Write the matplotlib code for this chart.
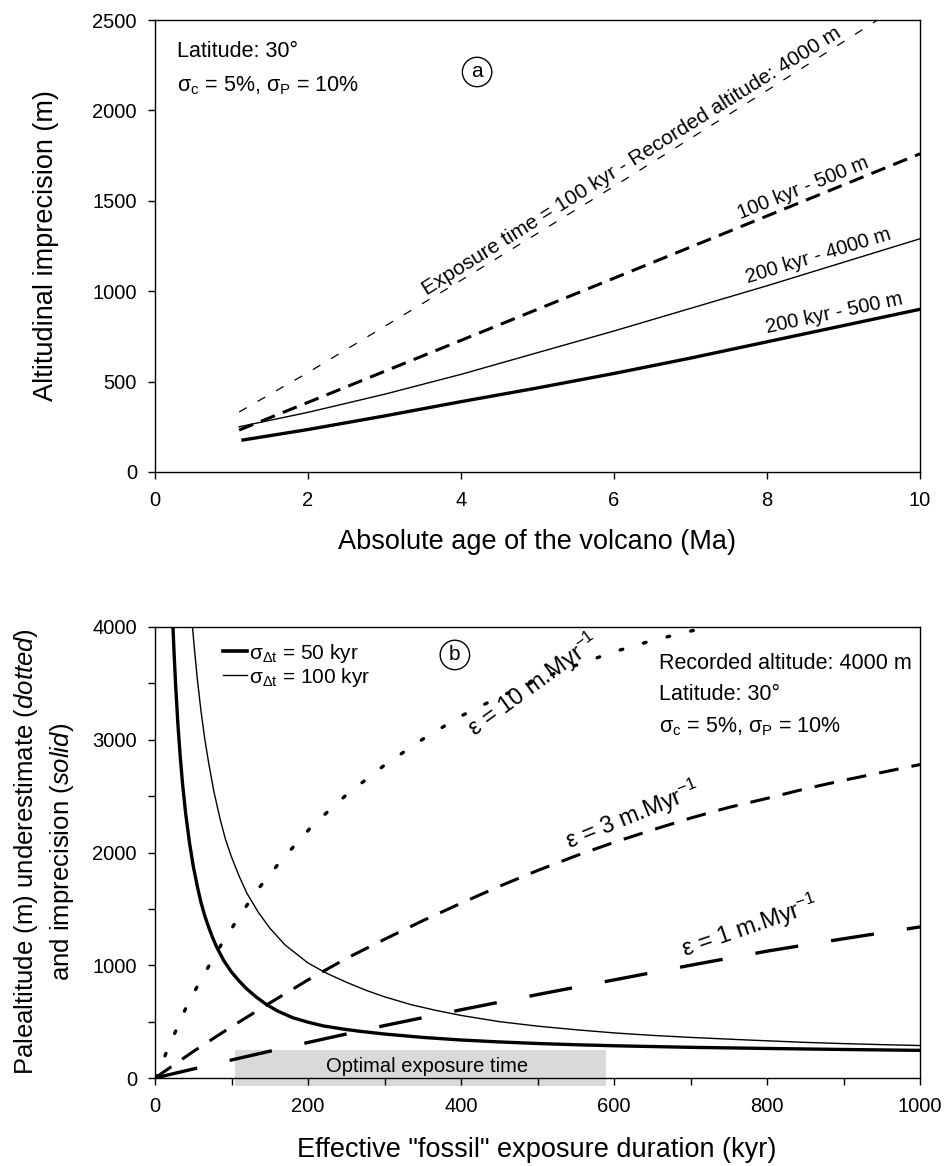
import matplotlib
matplotlib.use("Agg")
import matplotlib.pyplot as plt
from matplotlib.lines import Line2D
from matplotlib.ticker import MultipleLocator

# ---------------------------------------------------------------------------
# Data
# ---------------------------------------------------------------------------
# Panel (a): altitudinal imprecision vs absolute age of the volcano
AGE_100_4000 = [1.1, 2, 4, 6, 8, 10]
IMP_100_4000 = [332, 550, 1060, 1580, 2110, 2650]

AGE_100_500 = [1.1, 2, 4, 6, 8, 10]
IMP_100_500 = [232, 385, 728, 1072, 1416, 1760]

AGE_200_4000 = [1.1, 2, 3, 4, 5, 6, 7, 8, 9, 10]
IMP_200_4000 = [250, 330, 430, 540, 660, 780, 905, 1030, 1160, 1290]

AGE_200_500 = [1.15, 2, 3, 4, 5, 6, 7, 8, 9, 10]
IMP_200_500 = [177, 235, 310, 389, 465, 545, 630, 720, 810, 900]

# Panel (b): imprecision (solid) and underestimate (dotted/dashed) vs exposure
EXP_SIG50 = [23.5, 25, 27, 30, 33, 36, 40, 45, 50, 55, 60, 65, 70, 75, 80, 90,
             100, 110, 120, 132, 145, 160, 180, 200, 220, 245, 267, 300, 350,
             400, 450, 500, 550, 600, 700, 800, 900, 1000]
IMP_SIG50 = [4000, 3760, 3480, 3130, 2850, 2610, 2350, 2090, 1880, 1710, 1560,
             1440, 1340, 1250, 1170, 1040, 940, 860, 790, 720, 655, 595, 535,
             495, 462, 435, 415, 390, 360, 337, 320, 306, 295, 286, 272, 262,
             253, 245]

EXP_SIG100 = [49, 52, 55, 60, 65, 70, 77, 85, 92, 100, 110, 120, 135, 150, 170,
              200, 224, 250, 275, 300, 335, 367, 400, 450, 500, 550, 600, 650,
              700, 775, 800, 850, 900, 950, 1000]
IMP_SIG100 = [4000, 3770, 3560, 3260, 3010, 2800, 2540, 2300, 2120, 1960, 1790,
              1640, 1470, 1330, 1180, 1020, 930, 850, 780, 720, 650, 600, 555,
              500, 460, 428, 400, 378, 360, 337, 330, 316, 305, 296, 288]

EXP_EPS10 = [0, 10, 25, 43, 65, 85, 110, 132, 165, 206, 250, 300, 350, 400,
             450, 500, 550, 600, 650, 704, 715]
UND_EPS10 = [0, 150, 385, 662, 930, 1165, 1430, 1652, 1930, 2240, 2510, 2775,
             3005, 3210, 3380, 3530, 3660, 3780, 3880, 3970, 4000]

EXP_EPS3 = [0, 50, 100, 150, 200, 250, 300, 350, 400, 450, 500, 550, 600, 650,
            700, 750, 800, 850, 900, 950, 1000]
UND_EPS3 = [0, 235, 455, 665, 870, 1060, 1230, 1395, 1550, 1700, 1840, 1970,
            2090, 2200, 2305, 2400, 2480, 2565, 2640, 2710, 2780]

EXP_EPS1 = [0, 100, 200, 300, 400, 500, 600, 700, 800, 900, 1000]
UND_EPS1 = [0, 160, 315, 465, 605, 740, 870, 1000, 1125, 1235, 1340]

OPTIMAL_WINDOW = (105, 590)
OPTIMAL_HEIGHT = (-75, 250)

# ---------------------------------------------------------------------------
# Style
# ---------------------------------------------------------------------------
plt.rcParams.update({
    "font.family": ["Liberation Sans", "DejaVu Sans"],
    "mathtext.fontset": "custom",
    "mathtext.rm": "Liberation Sans",
    "mathtext.it": "Liberation Sans:italic",
    "mathtext.bf": "Liberation Sans:bold",
    "axes.linewidth": 1.0,
    "xtick.direction": "out",
    "ytick.direction": "out",
    "xtick.major.size": 5,
    "ytick.major.size": 5,
    "xtick.minor.size": 5,
    "ytick.minor.size": 5,
    "xtick.major.width": 1.0,
    "ytick.major.width": 1.0,
    "xtick.minor.width": 1.0,
    "ytick.minor.width": 1.0,
    "xtick.labelsize": 14.5,
    "ytick.labelsize": 14.5,
    "xtick.major.pad": 9,
    "ytick.major.pad": 8,
})

W, H = 946, 1166
fig = plt.figure(figsize=(W / 100, H / 100), dpi=100)
fig.patch.set_facecolor("white")


def px_axes(left, top, right, bottom):
    return fig.add_axes([left / W, 1 - bottom / H, (right - left) / W, (bottom - top) / H])


ax1 = px_axes(155, 20, 920, 472)
ax2 = px_axes(155, 627, 920, 1078)

SIG_C_P = "σ$_{\\mathrm{c}}$ = 5%, σ$_{\\mathrm{P}}$ = 10%"

# ---------------------------------------------------------------------------
# Panel (a)
# ---------------------------------------------------------------------------
ax1.plot(AGE_100_4000, IMP_100_4000, color="black", lw=0.9, ls=(0, (7, 10)))
ax1.plot(AGE_100_500, IMP_100_500, color="black", lw=2.2, ls=(0, (4.9, 2.8)))
ax1.plot(AGE_200_4000, IMP_200_4000, color="black", lw=1.0)
ax1.plot(AGE_200_500, IMP_200_500, color="black", lw=2.4)

ax1.set_xlim(0, 10)
ax1.set_ylim(0, 2500)
ax1.xaxis.set_major_locator(MultipleLocator(2))
ax1.yaxis.set_major_locator(MultipleLocator(500))

lab_kw = dict(fontsize=14.5, rotation_mode="anchor", ha="left", va="baseline")
ax1.text(3.55, 975, "Exposure time = 100 kyr - Recorded altitude: 4000 m",
         rotation=32, **{**lab_kw, "fontsize": 15})
ax1.text(7.65, 1400, "100 kyr - 500 m", rotation=22, **lab_kw)
ax1.text(7.75, 1045, "200 kyr - 4000 m", rotation=17, **lab_kw)
ax1.text(8.0, 770, "200 kyr - 500 m", rotation=12, **lab_kw)

ax1.text(0.029, 0.918, "Latitude: 30°", transform=ax1.transAxes,
         fontsize=15.5, va="baseline")
ax1.text(0.029, 0.841, SIG_C_P, transform=ax1.transAxes, fontsize=15.5,
         va="baseline")
ax1.text(0.421, 0.885, "a", transform=ax1.transAxes, fontsize=15,
         ha="center", va="center",
         bbox=dict(boxstyle="circle,pad=0.25", fc="white", ec="black", lw=1.0))

# ---------------------------------------------------------------------------
# Panel (b)
# ---------------------------------------------------------------------------
ax2.fill_between(OPTIMAL_WINDOW, OPTIMAL_HEIGHT[0], OPTIMAL_HEIGHT[1],
                 color="#d9d9d9", lw=0, zorder=0.5, clip_on=False)
ax2.text(sum(OPTIMAL_WINDOW) / 2 + 8, 100, "Optimal exposure time",
         fontsize=14.5, ha="center", va="center", zorder=1)

ax2.plot(EXP_EPS10, UND_EPS10, color="black", lw=2.4, ls=(0, (0.8, 6.5)),
         dash_capstyle="round")
ax2.plot(EXP_EPS3, UND_EPS3, color="black", lw=2.2, ls=(0, (6.5, 4.3)))
ax2.plot(EXP_EPS1, UND_EPS1, color="black", lw=2.4, ls=(0, (13, 10)))
ax2.plot(EXP_SIG50, IMP_SIG50, color="black", lw=2.4)
ax2.plot(EXP_SIG100, IMP_SIG100, color="black", lw=1.0)

ax2.set_xlim(0, 1000)
ax2.set_ylim(0, 4000)
ax2.xaxis.set_major_locator(MultipleLocator(200))
ax2.xaxis.set_minor_locator(MultipleLocator(100))
ax2.yaxis.set_major_locator(MultipleLocator(1000))
ax2.yaxis.set_minor_locator(MultipleLocator(500))

eps_kw = {**lab_kw, "fontsize": 17}
ax2.text(418, 3020, "ε = 10 m.Myr$^{-1}$", rotation=36, **eps_kw)
ax2.text(541, 2030, "ε = 3 m.Myr$^{-1}$", rotation=22, **eps_kw)
ax2.text(692, 1075, "ε = 1 m.Myr$^{-1}$", rotation=19, **eps_kw)

handles = [Line2D([], [], color="black", lw=2.6),
           Line2D([], [], color="black", lw=1.0)]
ax2.legend(handles,
           ["σ$_{\\mathrm{\\Delta t}}$ = 50 kyr", "σ$_{\\mathrm{\\Delta t}}$ = 100 kyr"],
           loc="upper left", bbox_to_anchor=(0.07, 1.0), frameon=False,
           fontsize=15, handlelength=1.15, handletextpad=0.1,
           labelspacing=0.05, borderaxespad=0.3)

ax2.text(0.392, 0.938, "b", transform=ax2.transAxes, fontsize=15,
         ha="center", va="center",
         bbox=dict(boxstyle="circle,pad=0.25", fc="white", ec="black", lw=1.0))

ax2.text(0.659, 0.907, "Recorded altitude: 4000 m", transform=ax2.transAxes,
         fontsize=15.5, va="baseline")
ax2.text(0.659, 0.838, "Latitude: 30°", transform=ax2.transAxes,
         fontsize=15.5, va="baseline")
ax2.text(0.659, 0.767, SIG_C_P, transform=ax2.transAxes, fontsize=15.5,
         va="baseline")

# ---------------------------------------------------------------------------
# Axis labels (placed in figure pixels)
# ---------------------------------------------------------------------------
def fig_text(x, y, s, **kw):
    fig.text(x / W, 1 - y / H, s, ha="center", va="center", **kw)


fig_text(537, 542, "Absolute age of the volcano (Ma)", fontsize=19.5)
fig_text(46, 246, "Altitudinal imprecision (m)", fontsize=19.5, rotation=90)
fig_text(537, 1150, 'Effective "fossil" exposure duration (kyr)', fontsize=19.5)
fig_text(26, 852, r"Palealtitude (m) underestimate $\mathit{(dotted)}$",
         fontsize=18.5, rotation=90)
fig_text(62, 852, r"and imprecision $\mathit{(solid)}$", fontsize=18.5, rotation=90)

fig.savefig("out.png", dpi=100, facecolor="white")
